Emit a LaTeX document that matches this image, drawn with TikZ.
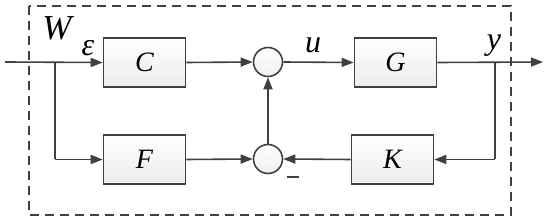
\documentclass[tikz,border=0pt]{standalone}
\usepackage{fontspec}
\setmainfont{Liberation Serif}
\usetikzlibrary{arrows.meta}
\definecolor{ln}{HTML}{404040}
\begin{document}
\begin{tikzpicture}[x=1pt,y=-1pt,
  line width=1.6pt, draw=ln,
  blk/.style={draw=ln, line width=1.6pt, minimum width=82pt, minimum height=49pt, top color=white, bottom color=gray!15, inner sep=0pt, font=\fontsize{28}{28}\selectfont\itshape},
  sumc/.style={circle, draw=ln, line width=1.6pt, minimum size=29pt, inner sep=0pt, top color=white, bottom color=gray!12},
  lab/.style={font=\fontsize{32}{32}\selectfont\itshape, text=black, inner sep=0pt},
  arr/.style={-{Triangle[length=12pt,width=9pt]}, draw=ln, line width=1.6pt}]
\useasboundingbox (0,0) rectangle (550,224);
\draw[ln, dashed, dash pattern=on 9pt off 6pt, line width=1.6pt] (29,6) rectangle (511,215);
\node[blk] (C) at (144.5,62.5) {C};
\node[blk] (F) at (144.5,159.5) {F};
\node[blk] (G) at (395.5,62.5) {G};
\node[blk] (K) at (392.5,159.5) {K};
\node[sumc] (s1) at (268,62) {};
\node[sumc] (s2) at (268,159) {};
\coordinate (in) at (5,62);
\coordinate (b1) at (55,62);
\coordinate (b1d) at (55,159.5);
\coordinate (b2) at (495,62);
\coordinate (b2d) at (495,159.5);
\coordinate (out) at (543,62);
\draw[arr] (in) -- (C.west);
\draw (b1) -- (b1d);
\draw[arr] (b1d) -- (F.west);
\draw[arr] (C.east) -- (s1.west);
\draw[arr] (s1.east) -- (G.west);
\draw[arr] (F.east) -- (s2.west);
\draw[arr] (s2.north) -- (s1.south);
\draw[arr] (G.east) -- (out);
\draw (b2) -- (b2d);
\draw[arr] (b2d) -- (K.east);
\draw[arr] (K.west) -- (s2.east);
\draw (287,177) -- (299,177);
\node[lab, font=\fontsize{35}{35}\selectfont\itshape] (W) at (57,28) {W};
\node[lab] (eps) at (88,48) {ε};
\node[lab] (u) at (313,45) {u};
\node[lab] (y) at (494,46) {y};
\end{tikzpicture}
\end{document}
